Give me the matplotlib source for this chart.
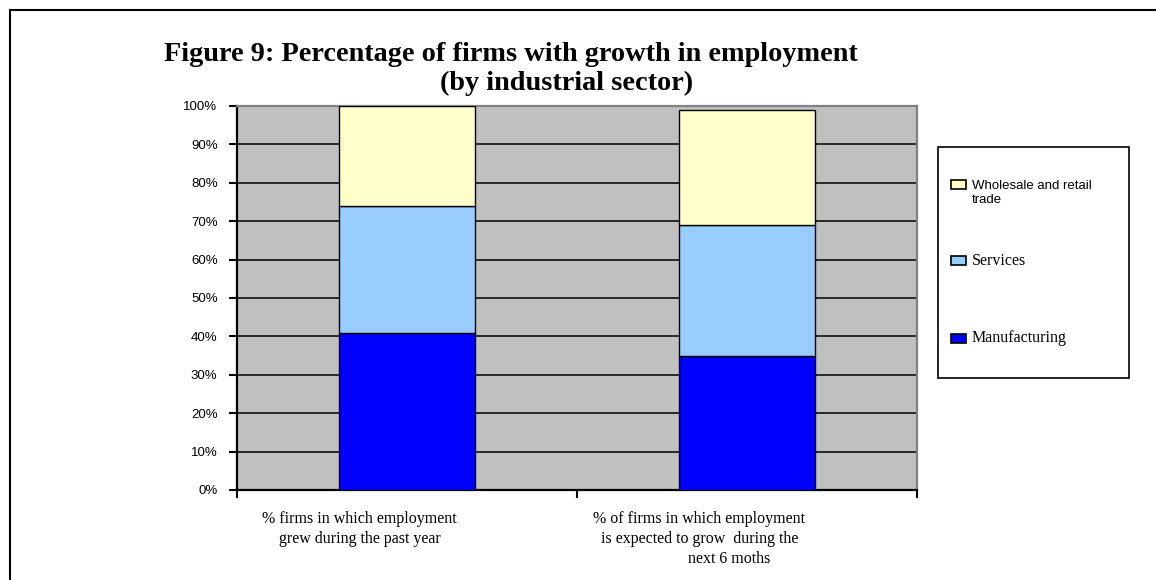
import matplotlib.pyplot as plt
from matplotlib.patches import Rectangle
from matplotlib.transforms import blended_transform_factory
import numpy as np

# survey shares, % of firms with employment growth
categories = ['% firms in which employment\ngrew during the past year',
              '% of firms in which employment\nis expected to grow  during the\n               next 6 moths']
sectors = ['Manufacturing', 'Services', 'Wholesale and retail\ntrade']
manufacturing = [41, 35]
services = [33, 34]
wholesale = [26, 30]
colors = ['#0000FF', '#99CCFF', '#FFFFCC']

W, H = 1156, 580
fig = plt.figure(figsize=(W / 100, H / 100), dpi=100)
fig.patch.set_facecolor('white')

# outer frame, only top and left edges are inside the image
fig.add_artist(Rectangle((9.5 / W, -0.2), 1.5, 1.2 - 10 / H, transform=fig.transFigure,
                         fill=False, edgecolor='black', lw=1.5))

ax = fig.add_axes([237 / W, 1 - 490 / H, (917 - 237) / W, (490 - 106) / H])
ax.set_facecolor('#C0C0C0')

x = np.arange(len(categories))
series = [manufacturing, services, wholesale]
bottom = np.zeros(len(categories))
for vals, col, lab in zip(series, colors, sectors):
    ax.bar(x, vals, width=0.4, bottom=bottom, color=col, edgecolor='black', lw=1.0,
           label=lab, zorder=3)
    bottom += np.array(vals)

ax.set_xlim(-0.5, 1.5)
ax.set_ylim(0, 100)
ax.set_yticks(np.arange(0, 101, 10))
ax.set_yticklabels([f'{v}%' for v in range(0, 101, 10)], family='Liberation Sans', fontsize=9.5)
ax.set_xticks([-0.5, 0.5, 1.5])
ax.set_xticklabels([])
ax.tick_params(axis='y', length=6, width=1.5, pad=8, direction='out')
ax.tick_params(axis='x', length=6, width=1.5, direction='out')
ax.grid(axis='y', color='black', lw=1.1, zorder=1)
ax.set_axisbelow(True)

ax.spines['left'].set_color('black')
ax.spines['left'].set_linewidth(1.6)
ax.spines['bottom'].set_color('black')
ax.spines['bottom'].set_linewidth(1.6)
ax.spines['top'].set_color('#808080')
ax.spines['top'].set_linewidth(1.6)
ax.spines['right'].set_color('#808080')
ax.spines['right'].set_linewidth(1.6)

# category labels sit a bit left of the bars
trans = blended_transform_factory(ax.transData, ax.transAxes)
for i, lab in enumerate(categories):
    ax.text(i - 0.14, -0.055, lab, transform=trans, ha='center', va='top',
            family='Liberation Serif', fontsize=11.5, linespacing=1.32)

# title
fig.text(511 / W, 1 - 61 / H, 'Figure 9: Percentage of firms with growth in employment',
         ha='center', va='baseline', family='Liberation Serif', weight='bold', fontsize=20.3)
fig.text(567 / W, 1 - 90 / H, '(by industrial sector)',
         ha='center', va='baseline', family='Liberation Serif', weight='bold', fontsize=20.3)

# legend box drawn by hand
fig.add_artist(Rectangle((938 / W, 1 - 378 / H), (1129 - 938) / W, (378 - 147) / H,
                         transform=fig.transFigure, fill=True, facecolor='white',
                         edgecolor='black', lw=1.2))
legend_rows = [(wholesale, 2, 184, 'Liberation Sans', 9.5),
               (services, 1, 261, 'Liberation Serif', 11.5),
               (manufacturing, 0, 338, 'Liberation Serif', 11.5)]
for _, idx, yc, fam, fs in legend_rows:
    fig.add_artist(Rectangle((951 / W, 1 - (yc + 4.5) / H), 15 / W, 9 / H,
                             transform=fig.transFigure, facecolor=colors[idx],
                             edgecolor='black', lw=1.2))
    if idx == 2:
        fig.text(972 / W, 1 - (yc - 4) / H, sectors[idx], ha='left', va='top',
                 family=fam, fontsize=fs, linespacing=1.2)
    else:
        fig.text(972 / W, 1 - yc / H, sectors[idx], ha='left', va='center',
                 family=fam, fontsize=fs)

fig.savefig('out.png', dpi=100, facecolor='white')
